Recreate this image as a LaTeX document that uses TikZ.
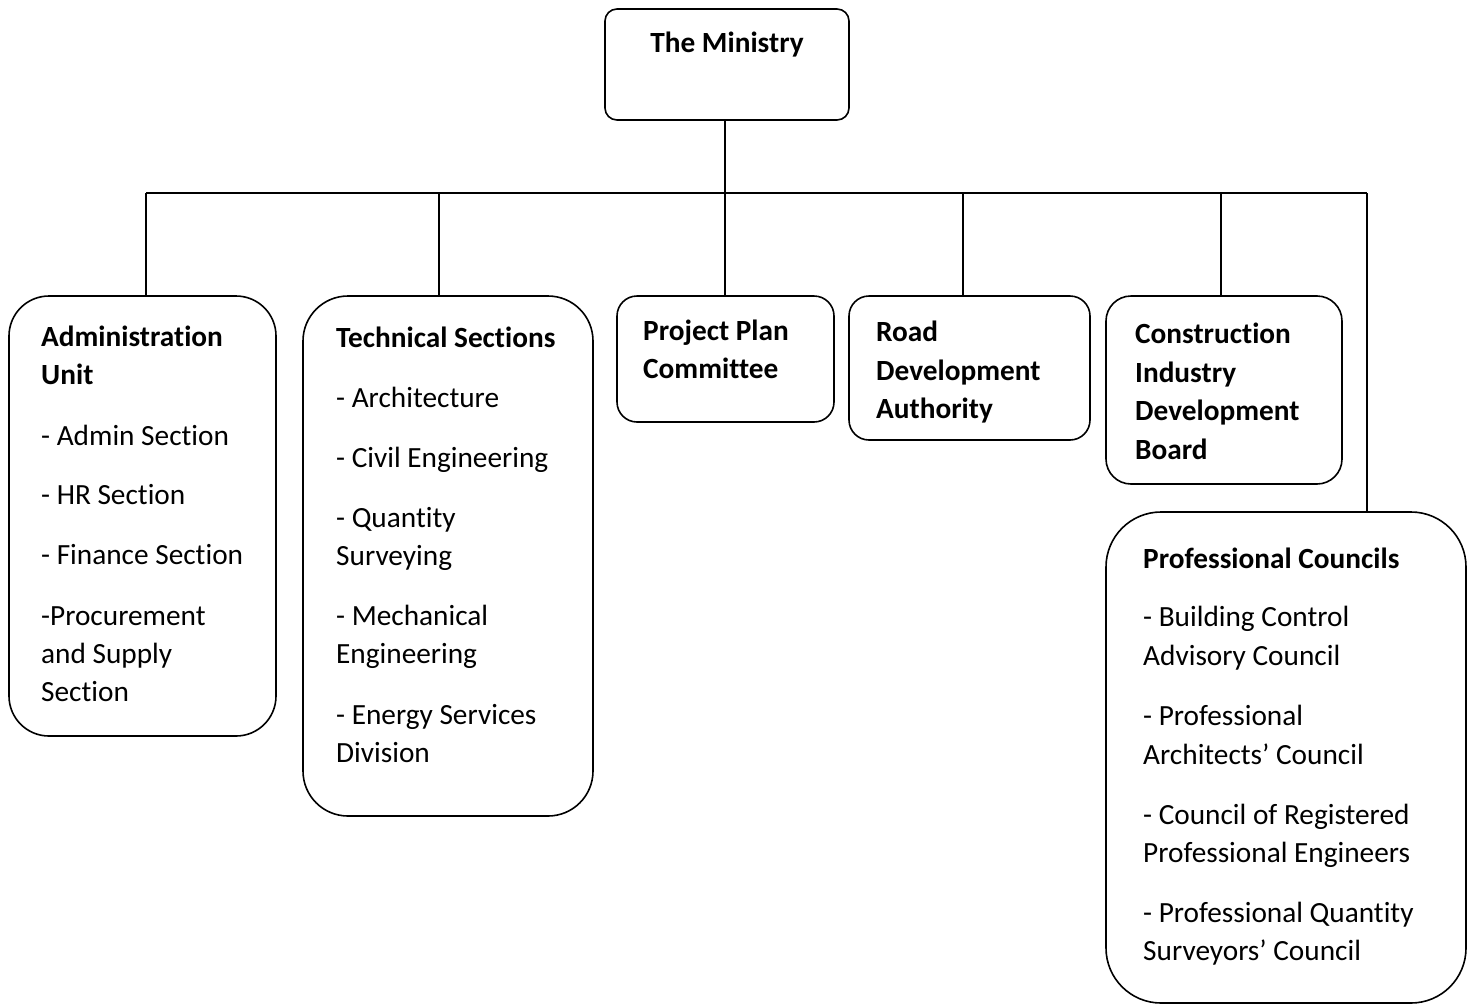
\documentclass[tikz,border=0pt]{standalone}
\usepackage{fontspec}
\setmainfont{Carlito}[Ligatures={NoCommon}]
\begin{document}
\begin{tikzpicture}[x=1bp,y=-1bp,
  box/.style={draw=black,line width=1.6bp,rectangle,inner sep=0pt},
  txt/.style={anchor=base west,inner sep=0pt,font=\fontsize{29.4}{35}\selectfont},
  conn/.style={draw=black,line width=1.6bp}]
\useasboundingbox (0,0) rectangle (1473,1005);
% boxes
\node[box,rounded corners=12bp,minimum width=244bp,minimum height=111bp] (ministry) at (727,64.5) {};
\node[box,rounded corners=40bp,minimum width=267bp,minimum height=440bp] (admin) at (142.5,516) {};
\node[box,rounded corners=45bp,minimum width=290bp,minimum height=520bp] (tech) at (448,556) {};
\node[box,rounded corners=20bp,minimum width=217bp,minimum height=126bp] (project) at (725.5,359) {};
\node[box,rounded corners=20bp,minimum width=241bp,minimum height=144bp] (road) at (969.5,368) {};
\node[box,rounded corners=25bp,minimum width=236bp,minimum height=188bp] (cidb) at (1224,390) {};
\node[box,rounded corners=55bp,minimum width=360bp,minimum height=491bp] (prof) at (1286,757.5) {};
% texts
\node[txt,anchor=base,name=ministry-t] at (727,52) {\textbf{The Ministry}};
\newcommand{\boxlines}[3]{%
  \foreach \yy/\mytxt [count=\k] in {#3} {\node[txt,name=#1-\k] at (#2,\yy+9.5) {\mytxt};}}
\boxlines{admin}{41}{337/\textbf{Administration},375/\textbf{Unit},436/- Admin Section,495/- HR Section,555/- Finance Section,616/-Procurement,654/and Supply,692/Section}
\boxlines{tech}{336}{338/\textbf{Technical Sections},398/- Architecture,458/- Civil Engineering,518/- Quantity,556/Surveying,616/- Mechanical,654/Engineering,715/- Energy Services,753/Division}
\boxlines{project}{643}{331/\textbf{Project Plan},369/\textbf{Committee}}
\boxlines{road}{876}{332/\textbf{Road},371/\textbf{Development},409/\textbf{Authority}}
\boxlines{cidb}{1135}{334/\textbf{Construction},373/\textbf{Industry},411/\textbf{Development},450/\textbf{Board}}
\boxlines{prof}{1143}{559/\textbf{Professional Councils},617/- Building Control,656/Advisory Council,716/- Professional,755/Architects’ Council,815/- Council of Registered,853/Professional Engineers,913/- Professional Quantity,951/Surveyors’ Council}
% connectors
\coordinate (busL) at (146,193);
\coordinate (busR) at (1367,193);
\coordinate (tapM) at (725,193);
\coordinate (tapT) at (439,193);
\coordinate (tapR) at (963,193);
\coordinate (tapC) at (1221,193);
\draw[conn] (busL) -- (busR);
\draw[conn] (ministry.south -| tapM) -- (tapM);
\draw[conn] (busL) -- (busL |- admin.north);
\draw[conn] (tapT) -- (tapT |- tech.north);
\draw[conn] (tapM) -- (tapM |- project.north);
\draw[conn] (tapR) -- (tapR |- road.north);
\draw[conn] (tapC) -- (tapC |- cidb.north);
\draw[conn] (busR) -- (busR |- prof.north);
\end{tikzpicture}
\end{document}
